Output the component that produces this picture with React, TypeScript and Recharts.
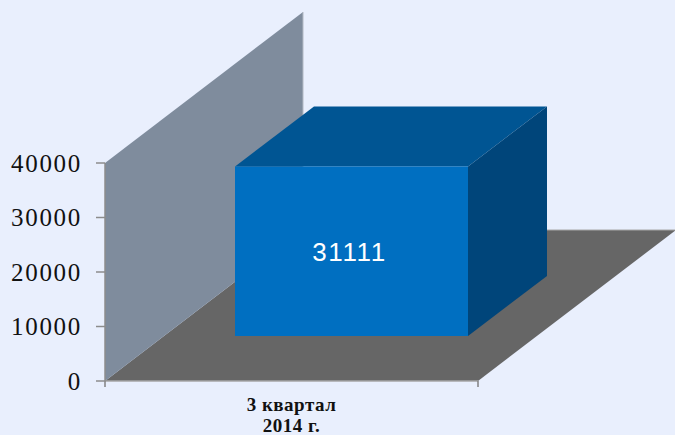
import { BarChart, Bar, XAxis, YAxis, ReferenceArea, LabelList } from 'recharts';

const categories = ['3 квартал\n2014 г.'];
const values = [31111];
const yTicks = [0, 10000, 20000, 30000, 40000];

const data = categories.map((name, i) => ({ name, value: values[i] }));

const PAGE_BG = '#E9EFFD';
const WALL_DX = 198;
const WALL_DY = -151;
const BAR_SHIFT_X = 60;
const BAR_SHIFT_Y = -45;
const BAR_DX = 79;
const BAR_DY = -60;

// Back wall and floor, worked out from the plot rectangle
function Room({ x, y, width, height }: any) {
  const bottom = y + height;
  const right = x + width;
  return (
    <g>
      <polygon
        points={`${x},${bottom} ${right},${bottom} ${right + WALL_DX},${bottom + WALL_DY} ${x + WALL_DX},${bottom + WALL_DY}`}
        fill="#666666"
      />
      <polygon
        points={`${x},${y} ${x + WALL_DX},${y + WALL_DY} ${x + WALL_DX},${bottom + WALL_DY} ${x},${bottom}`}
        fill="#7F8C9D"
      />
      <line x1={x} y1={bottom} x2={right} y2={bottom} stroke="#A6A6A6" strokeWidth={1.5} />
      <line x1={right} y1={bottom} x2={right} y2={bottom + 6} stroke="#808080" strokeWidth={1.5} />
      <line x1={x} y1={bottom} x2={x} y2={bottom + 6} stroke="#808080" strokeWidth={1.5} />
      <line x1={x + WALL_DX} y1={y + WALL_DY} x2={x + WALL_DX} y2={bottom + WALL_DY} stroke="#B4BAC4" />
      <line x1={x + WALL_DX} y1={bottom + WALL_DY} x2={right + WALL_DX} y2={bottom + WALL_DY} stroke="#A6A6A6" />
    </g>
  );
}

// Box drawn from the bar's own rectangle, moved into the room's depth
function Box({ x, y, width, height }: any) {
  const l = x + BAR_SHIFT_X;
  const r = l + width;
  const t = y + BAR_SHIFT_Y;
  const b = t + height;
  return (
    <g>
      <polygon points={`${l},${t} ${l + BAR_DX},${t + BAR_DY} ${r + BAR_DX},${t + BAR_DY} ${r},${t}`} fill="#005593" />
      <polygon points={`${r},${t} ${r + BAR_DX},${t + BAR_DY} ${r + BAR_DX},${b + BAR_DY} ${r},${b}`} fill="#00457A" />
      <rect x={l} y={t} width={width} height={height} fill="#006FC1" />
    </g>
  );
}

function ValueLabel({ x, y, width, height, value }: any) {
  return (
    <text
      x={x + BAR_SHIFT_X + width / 2 - 2}
      y={y + BAR_SHIFT_Y + height / 2 + 1}
      textAnchor="middle"
      dominantBaseline="central"
      fill="#FFFFFF"
      fontFamily="Liberation Sans"
      fontSize={26}
      letterSpacing={1.6}
    >
      {value}
    </text>
  );
}

function CategoryTick({ x, y, payload }: any) {
  const lines = String(payload.value).split('\n');
  return (
    <text textAnchor="middle" fontFamily="Liberation Serif" fontWeight="bold" fontSize={19} letterSpacing={0.5} fill="#111111">
      {lines.map((line, i) => (
        <tspan key={line} x={x} y={y + 22 + i * 21}>
          {line}
        </tspan>
      ))}
    </text>
  );
}

export default function App() {
  return (
    <div style={{ position: 'absolute', left: 0, top: 0, width: 675, height: 435, background: PAGE_BG, overflow: 'hidden' }}>
      <BarChart width={675} height={435} data={data} barSize={233} margin={{ top: 163, right: 197, bottom: 0, left: 0 }}>
        <ReferenceArea y1={0} y2={40000} shape={Room} ifOverflow="visible" fill="none" stroke="none" />
        <XAxis dataKey="name" axisLine={false} tickLine={false} tick={CategoryTick} interval={0} height={54} />
        <YAxis
          width={105}
          domain={[0, 40000]}
          ticks={yTicks}
          interval={0}
          tickSize={9}
          tickMargin={14}
          axisLine={{ stroke: '#8C8C8C', strokeWidth: 1.5 }}
          tickLine={{ stroke: '#8C8C8C', strokeWidth: 1.5 }}
          tick={{ fontFamily: 'Liberation Serif', fontSize: 25, fill: '#111111', letterSpacing: 1.7 }}
        />
        <Bar dataKey="value" shape={Box} isAnimationActive={false}>
          <LabelList dataKey="value" content={ValueLabel} />
        </Bar>
      </BarChart>
    </div>
  );
}
